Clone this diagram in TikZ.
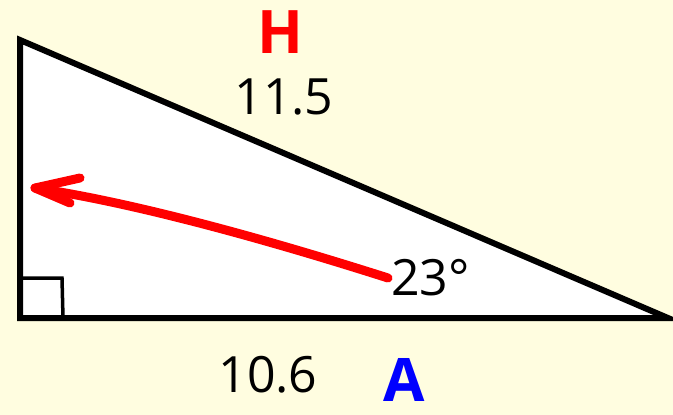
\documentclass[tikz,border=0pt]{standalone}
\usepackage{fontspec}
\setmainfont{Open Sans}
\begin{document}
\begin{tikzpicture}[x=1pt,y=-1pt,
  lbl/.style={inner sep=0pt, font=\fontsize{50}{60}\selectfont},
  letter/.style={inner sep=0pt, font=\fontsize{60}{70}\selectfont\bfseries},
  side/.style={line width=6pt, line join=miter, miter limit=10},
  redline/.style={red, line width=9pt, line cap=round, line join=round}]
\fill[yellow!12!white] (0,0) rectangle (673,415);
\useasboundingbox (0,0) rectangle (673,415);
\coordinate (T) at (20,40);
\coordinate (C) at (20,318);
\coordinate (R) at (668,318);
\draw[side, fill=white] (T) -- (C) -- (R) -- cycle;
\coordinate (q1) at (20,278);
\coordinate (q2) at (62,278);
\coordinate (q3) at (63,318);
\draw[line width=3.5pt] (q1) -- (q2) -- (q3);
\node[lbl] (hyp) at (284,97) {11.5};
\node[lbl] (adj) at (268,375) {10.6};
\node[lbl, anchor=west] (ang) at (391,278) {23°};
\node[letter, red] (H) at (280,32) {H};
\node[letter, blue] (A) at (404,380) {A};
\coordinate (s) at (388,278);
\coordinate (e) at (35,188);
\coordinate (b1) at (80,178);
\coordinate (b2) at (70,203);
\draw[redline] (s) .. controls (300,250) and (150,205) .. (e);
\draw[redline] (b1) -- (e) -- (b2);
\end{tikzpicture}
\end{document}
